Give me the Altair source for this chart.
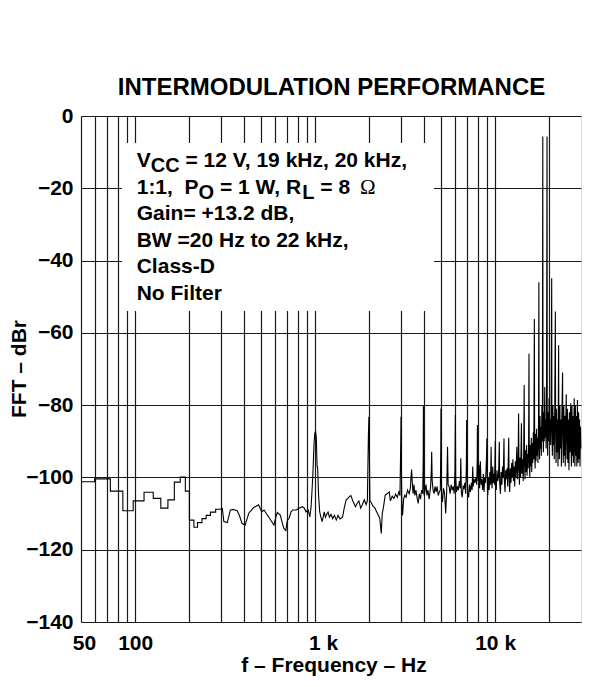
import altair as alt
import pandas as pd

# ---------------- data ----------------
# low-frequency staircase, 50 Hz - 300 Hz
seg1_hz = [50, 59.5, 59.5, 72.8, 72.8, 85.4, 85.4, 97.5, 97.5, 112,
           112, 126, 126, 138.8, 138.8, 152, 152, 165, 165, 178,
           178, 190, 190, 200, 200, 212, 212, 222, 222, 235,
           235, 248, 248, 262, 262, 280, 280, 297]
seg1_db = [-101.2, -101.2, -100.4, -100.4, -103.8, -103.8, -109.2, -109.2, -106.5, -106.5,
           -104.1, -104.1, -105.8, -105.8, -108.5, -108.5, -106.2, -106.2, -101.3, -101.3,
           -99.9, -99.9, -103.8, -103.8, -111.8, -111.8, -113.8, -113.8, -112.5, -112.5,
           -111.4, -111.4, -110.5, -110.5, -109.6, -109.6, -108.8, -108.8]

# 300 Hz - 3 kHz
seg2_hz = [305, 311, 325, 338, 352, 369, 380, 392, 408, 428,
           440, 456, 470, 485, 505, 520, 535, 551, 573, 590,
           605, 617, 640, 660, 670, 687, 700, 716, 735, 752,
           786, 810, 849, 870, 890, 915, 934, 950, 970, 985,
           995, 1005, 1015, 1025, 1032, 1045, 1060, 1075, 1094, 1110,
           1123, 1140, 1160, 1180, 1200, 1225, 1250, 1280, 1310, 1340,
           1375, 1420, 1450, 1487, 1520, 1550, 1580, 1620, 1675, 1710,
           1750, 1790, 1830, 1875, 1920, 1950, 1977, 1990, 2000, 2015,
           2050, 2100, 2150, 2218, 2285, 2330, 2360, 2400, 2451, 2500,
           2577, 2620, 2680, 2740, 2800, 2860, 2920, 2960, 2990, 3000]
seg2_db = [-108.6, -112.2, -112.5, -109.0, -108.9, -109.2, -110.6, -112.7, -113.2, -109.9,
           -109.2, -108.3, -108.0, -107.6, -109.5, -109.0, -110.0, -110.9, -112.2, -113.2,
           -111.0, -109.7, -110.4, -113.0, -114.1, -114.7, -112.0, -111.3, -109.5, -109.0,
           -109.0, -108.6, -108.1, -108.5, -109.5, -109.0, -110.9, -108.0, -99.8, -91.0,
           -87.8, -87.3, -89.0, -97.0, -97.2, -105.0, -109.5, -110.9, -112.2, -110.8,
           -109.5, -111.0, -110.2, -109.6, -111.0, -110.2, -111.4, -110.5, -111.8, -110.5,
           -111.5, -111.0, -108.5, -106.2, -105.8, -105.3, -105.0, -106.5, -108.1, -107.2,
           -106.5, -108.5, -107.5, -106.2, -107.5, -106.5, -88.0, -83.2, -92.0, -106.5,
           -107.0, -108.0, -108.5, -110.0, -111.3, -115.5, -110.0, -108.0, -104.9, -104.6,
           -104.0, -106.5, -105.2, -105.8, -104.6, -105.5, -104.0, -105.0, -90.0, -83.2]

# 3 kHz - 8.5 kHz
seg3_hz = [3012, 3030, 3060, 3100, 3150, 3200, 3260, 3330, 3380, 3420,
           3436, 3460, 3500, 3540, 3580, 3630, 3680, 3738, 3790, 3850,
           3900, 3960, 3985, 3995, 4005, 4030, 4080, 4130, 4180, 4230,
           4300, 4380, 4420, 4441, 4470, 4520, 4580, 4630, 4700, 4760,
           4830, 4900, 4960, 4990, 5002, 5015, 5050, 5100, 5170, 5240,
           5312, 5380, 5440, 5480, 5550, 5620, 5700, 5780, 5850, 5920,
           5980, 6015, 6040, 6100, 6180, 6250, 6330, 6400, 6446, 6490,
           6560, 6640, 6710, 6790, 6860, 6920, 6946, 6980, 7050, 7130,
           7200, 7290, 7380, 7450, 7510, 7560, 7640, 7720, 7820, 7900,
           7955, 7970, 8000, 8060, 8130, 8200, 8280, 8350, 8430, 8520]
seg3_db = [-95.0, -107.0, -110.5, -106.0, -104.9, -105.5, -103.5, -104.5, -103.0, -99.0,
           -97.8, -101.0, -104.5, -102.0, -105.0, -103.5, -105.5, -107.2, -104.5, -106.0,
           -103.5, -104.5, -95.0, -80.0, -92.0, -105.0, -103.5, -102.0, -105.0, -103.5,
           -106.0, -102.5, -98.0, -92.9, -101.0, -103.5, -104.5, -102.5, -104.0, -102.5,
           -105.0, -104.0, -103.5, -92.0, -80.9, -96.0, -105.0, -106.8, -103.0, -104.5,
           -110.0, -104.0, -91.5, -102.0, -102.5, -104.5, -102.0, -103.5, -102.5, -104.5,
           -98.0, -82.7, -100.0, -104.0, -102.5, -103.5, -101.0, -103.0, -94.7, -104.0,
           -105.5, -102.5, -103.0, -101.5, -104.5, -97.0, -84.1, -99.0, -104.5, -105.5,
           -102.0, -104.0, -101.5, -103.5, -97.0, -102.5, -100.5, -101.5, -100.0, -102.0,
           -95.0, -85.5, -98.0, -101.0, -96.5, -103.0, -95.5, -102.0, -100.5, -103.5]

# 8.5 kHz - 14.7 kHz
seg4_hz = [8600, 8680, 8750, 8830, 8900, 8960, 9000, 9040, 9100, 9180,
           9260, 9350, 9430, 9500, 9550, 9620, 9700, 9780, 9850, 9920,
           9980, 10020, 10060, 10150, 10250, 10350, 10450, 10550, 10600, 10700,
           10800, 10900, 11000, 11100, 11200, 11260, 11350, 11450, 11550, 11650,
           11750, 11900, 11960, 12050, 12150, 12250, 12350, 12450, 12550, 12650,
           12750, 12850, 12950, 13050, 13200, 13300, 13420, 13500, 13570, 13650,
           13750, 13850, 14000, 14080, 14200, 14320, 14420, 14500, 14570, 14650]
seg4_db = [-99.0, -104.0, -100.0, -101.5, -98.0, -94.0, -89.2, -101.0, -104.9, -100.0,
           -103.5, -98.5, -102.0, -91.5, -100.5, -103.0, -97.0, -101.5, -99.0, -102.0,
           -95.0, -90.0, -100.5, -103.5, -98.0, -101.0, -99.5, -90.1, -101.5, -104.5,
           -98.5, -102.0, -97.0, -100.0, -89.2, -101.0, -104.0, -98.0, -100.5, -97.5,
           -102.5, -89.0, -100.0, -104.0, -97.5, -101.5, -96.0, -100.0, -95.0, -101.0,
           -97.0, -102.5, -95.5, -100.0, -91.5, -100.5, -96.0, -82.3, -98.0, -102.0,
           -94.5, -100.0, -85.0, -99.0, -95.0, -101.0, -92.0, -74.4, -96.0, -100.5]

# 14.7 kHz - 30 kHz
seg5_hz = [14750, 14850, 14950, 15050, 15150, 15250, 15350, 15420, 15480, 15580,
           15680, 15780, 15880, 15980, 16080, 16180, 16300, 16400, 16520, 16580,
           16680, 16780, 16880, 16980, 17080, 17200, 17300, 17420, 17500, 17560,
           17660, 17760, 17860, 17960, 18060, 18180, 18300, 18400, 18450, 18550,
           18650, 18750, 18870, 18970, 19080, 19200, 19300, 19430, 19480, 19580,
           19700, 19820, 19950, 20080, 20200, 20350, 20480, 20620, 20680, 20800,
           20930, 21050, 21180, 21300, 21430, 21610, 21680, 21800, 21930, 22050,
           22200, 22350, 22530, 22600, 22750, 22900, 23050, 23200, 23350, 23500,
           23700, 23780, 23920, 24080, 24220, 24380, 24520, 24680, 24840, 24920,
           25080, 25240, 25400, 25560, 25720, 25880, 26050, 26300, 26380, 26550,
           26720, 26900, 27050, 27200, 27500, 27580, 27750, 27920, 28100, 28280,
           28450, 28660, 28750, 28920, 29100, 29280, 29450, 29620, 29800, 29950]
seg5_db = [-92.5, -98.5, -91.0, -99.5, -93.5, -97.5, -90.0, -65.8, -95.0, -100.0,
           -91.0, -97.0, -89.0, -98.5, -90.5, -96.0, -87.5, -95.0, -56.2, -92.0,
           -97.5, -88.0, -95.5, -86.5, -94.0, -89.0, -96.0, -84.0, -46.0, -90.0,
           -95.0, -83.0, -92.0, -86.0, -94.0, -80.0, -90.0, -5.7, -88.0, -93.0,
           -82.0, -90.0, -75.0, -89.0, -84.0, -92.0, -80.0, -5.7, -86.0, -94.0,
           -82.0, -90.0, -78.0, -88.0, -84.0, -91.0, -79.0, -44.9, -87.0, -94.0,
           -80.0, -91.0, -83.0, -95.0, -82.0, -54.1, -88.0, -96.0, -81.0, -93.0,
           -84.0, -97.0, -63.4, -86.0, -95.0, -80.0, -92.0, -84.0, -97.0, -82.0,
           -71.0, -88.0, -96.0, -80.0, -94.0, -83.0, -97.0, -85.0, -77.0, -88.0,
           -95.0, -81.0, -96.0, -84.0, -98.0, -82.0, -93.0, -79.5, -90.0, -97.0,
           -80.0, -94.0, -83.0, -96.0, -78.1, -89.0, -97.0, -80.0, -94.0, -83.0,
           -97.0, -78.6, -90.0, -96.0, -82.0, -95.0, -84.0, -97.0, -86.0, -92.0]

x_grid_hz = [50, 60, 70, 80, 90, 100, 200, 300, 400, 500, 600, 700, 800, 900,
             1000, 2000, 3000, 4000, 5000, 6000, 7000, 8000, 9000, 10000, 20000]
x_label_values = [50, 100, 1000, 10000]
x_label_texts = ["50", "100", "1 k", "10 k"]
y_ticks = [0, -20, -40, -60, -80, -100, -120, -140]

# ---------------- build table ----------------
freq_hz = seg1_hz + seg2_hz + seg3_hz + seg4_hz + seg5_hz
level_dbr = seg1_db + seg2_db + seg3_db + seg4_db + seg5_db
assert len(freq_hz) == len(level_dbr), (len(freq_hz), len(level_dbr))
df = pd.DataFrame({"f": freq_hz, "db": level_dbr, "i": list(range(len(freq_hz)))})

FONT = "Liberation Sans"
W, H = 500, 506

x_label_expr = " : ".join(
    f"datum.value == {v} ? '{t}'" for v, t in zip(x_label_values, x_label_texts)
) + " : ''"

line = alt.Chart(df).mark_line(color="black", strokeWidth=1.1).encode(
    x=alt.X(
        "f:Q",
        scale=alt.Scale(type="log", domain=[50, 30000], nice=False, zero=False),
        axis=alt.Axis(
            values=x_grid_hz, labelExpr=x_label_expr, grid=True, gridColor="#1a1a1a",
            gridWidth=1.2, gridOpacity=1, ticks=False, tickSize=0, domain=False,
            labelFont=FONT, labelFontSize=21, labelFontWeight="bold", labelColor="black",
            labelPadding=27, labelBaseline="alphabetic", labelFlush=False,
            labelOverlap=False, labelBound=False, title=None,
            labelOffset={"condition": [{"test": "datum.value == 1000", "value": 8},
                                       {"test": "datum.value == 50", "value": 3}],
                         "value": 0},
        ),
    ),
    y=alt.Y(
        "db:Q",
        scale=alt.Scale(domain=[-140, 0], nice=False, zero=False),
        axis=alt.Axis(
            values=y_ticks, grid=True, gridColor="#1a1a1a", gridWidth=1.2, gridOpacity=1,
            ticks=False, tickSize=0, domain=False, labelFont=FONT, labelFontSize=21,
            labelFontWeight="bold", labelColor="black", labelPadding=8, title=None,
            labelExpr="datum.value == 0 ? '0' : '\u2212' + abs(datum.value)",
        ),
    ),
    order=alt.Order("i:Q"),
)

one = pd.DataFrame({"k": [0]})

# white box behind the annotation text (hides the grid)
box = alt.Chart(one).mark_rect(color="white").encode(
    x=alt.value(41), x2=alt.value(353), y=alt.value(27), y2=alt.value(195)
)

# (text, x, y, size, font, weight, align)
pieces = [
    ("INTERMODULATION PERFORMANCE", 250.5, -21, 24, FONT, "bold", "center"),
    ("f \u2013 Frequency \u2013 Hz", 253, 556, 21, FONT, "bold", "center"),
    ("V", 55.7, 51, 21, FONT, "bold", "left"),
    ("CC", 69.7, 56, 20, FONT, "bold", "left"),
    ("= 12 V, 19 kHz, 20 kHz,", 104.4, 51, 21, FONT, "bold", "left"),
    ("1:1,", 55.7, 78, 21, FONT, "bold", "left"),
    ("P", 103.6, 78, 21, FONT, "bold", "left"),
    ("O", 117.6, 83, 20, FONT, "bold", "left"),
    ("= 1 W, R", 139, 78, 21, FONT, "bold", "left"),
    ("L", 221.3, 83, 20, FONT, "bold", "left"),
    ("= 8", 239.3, 78, 21, FONT, "bold", "left"),
    ("\u03a9", 279, 78, 21, "Liberation Serif", "normal", "left"),
    ("Gain= +13.2 dB,", 55.7, 104, 21, FONT, "bold", "left"),
    ("BW =20 Hz to 22 kHz,", 55.7, 130.5, 21, FONT, "bold", "left"),
    ("Class-D", 55.7, 157, 21, FONT, "bold", "left"),
    ("No Filter", 55.7, 183.5, 21, FONT, "bold", "left"),
]

texts = []
for t, px, py, fs, fnt, fw, al in pieces:
    texts.append(
        alt.Chart(one).mark_text(
            text=t, font=fnt, fontSize=fs, fontWeight=fw, align=al,
            baseline="alphabetic", color="black",
        ).encode(x=alt.value(px), y=alt.value(py))
    )

ytitle = alt.Chart(one).mark_text(
    text="FFT \u2013 dBr", font=FONT, fontSize=21, fontWeight="bold", align="center",
    baseline="middle", color="black", angle=270,
).encode(x=alt.value(-61), y=alt.value(253))

chart = alt.layer(box, line, *texts, ytitle).properties(
    width=W, height=H,
    autosize=alt.AutoSizeParams(type="none"),
    padding={"left": 73, "top": 108, "right": 1, "bottom": 54},
).configure_view(stroke="black", strokeWidth=2.2).configure(background="white")

chart.save("out.html", embed_options={"renderer": "svg", "actions": False})
